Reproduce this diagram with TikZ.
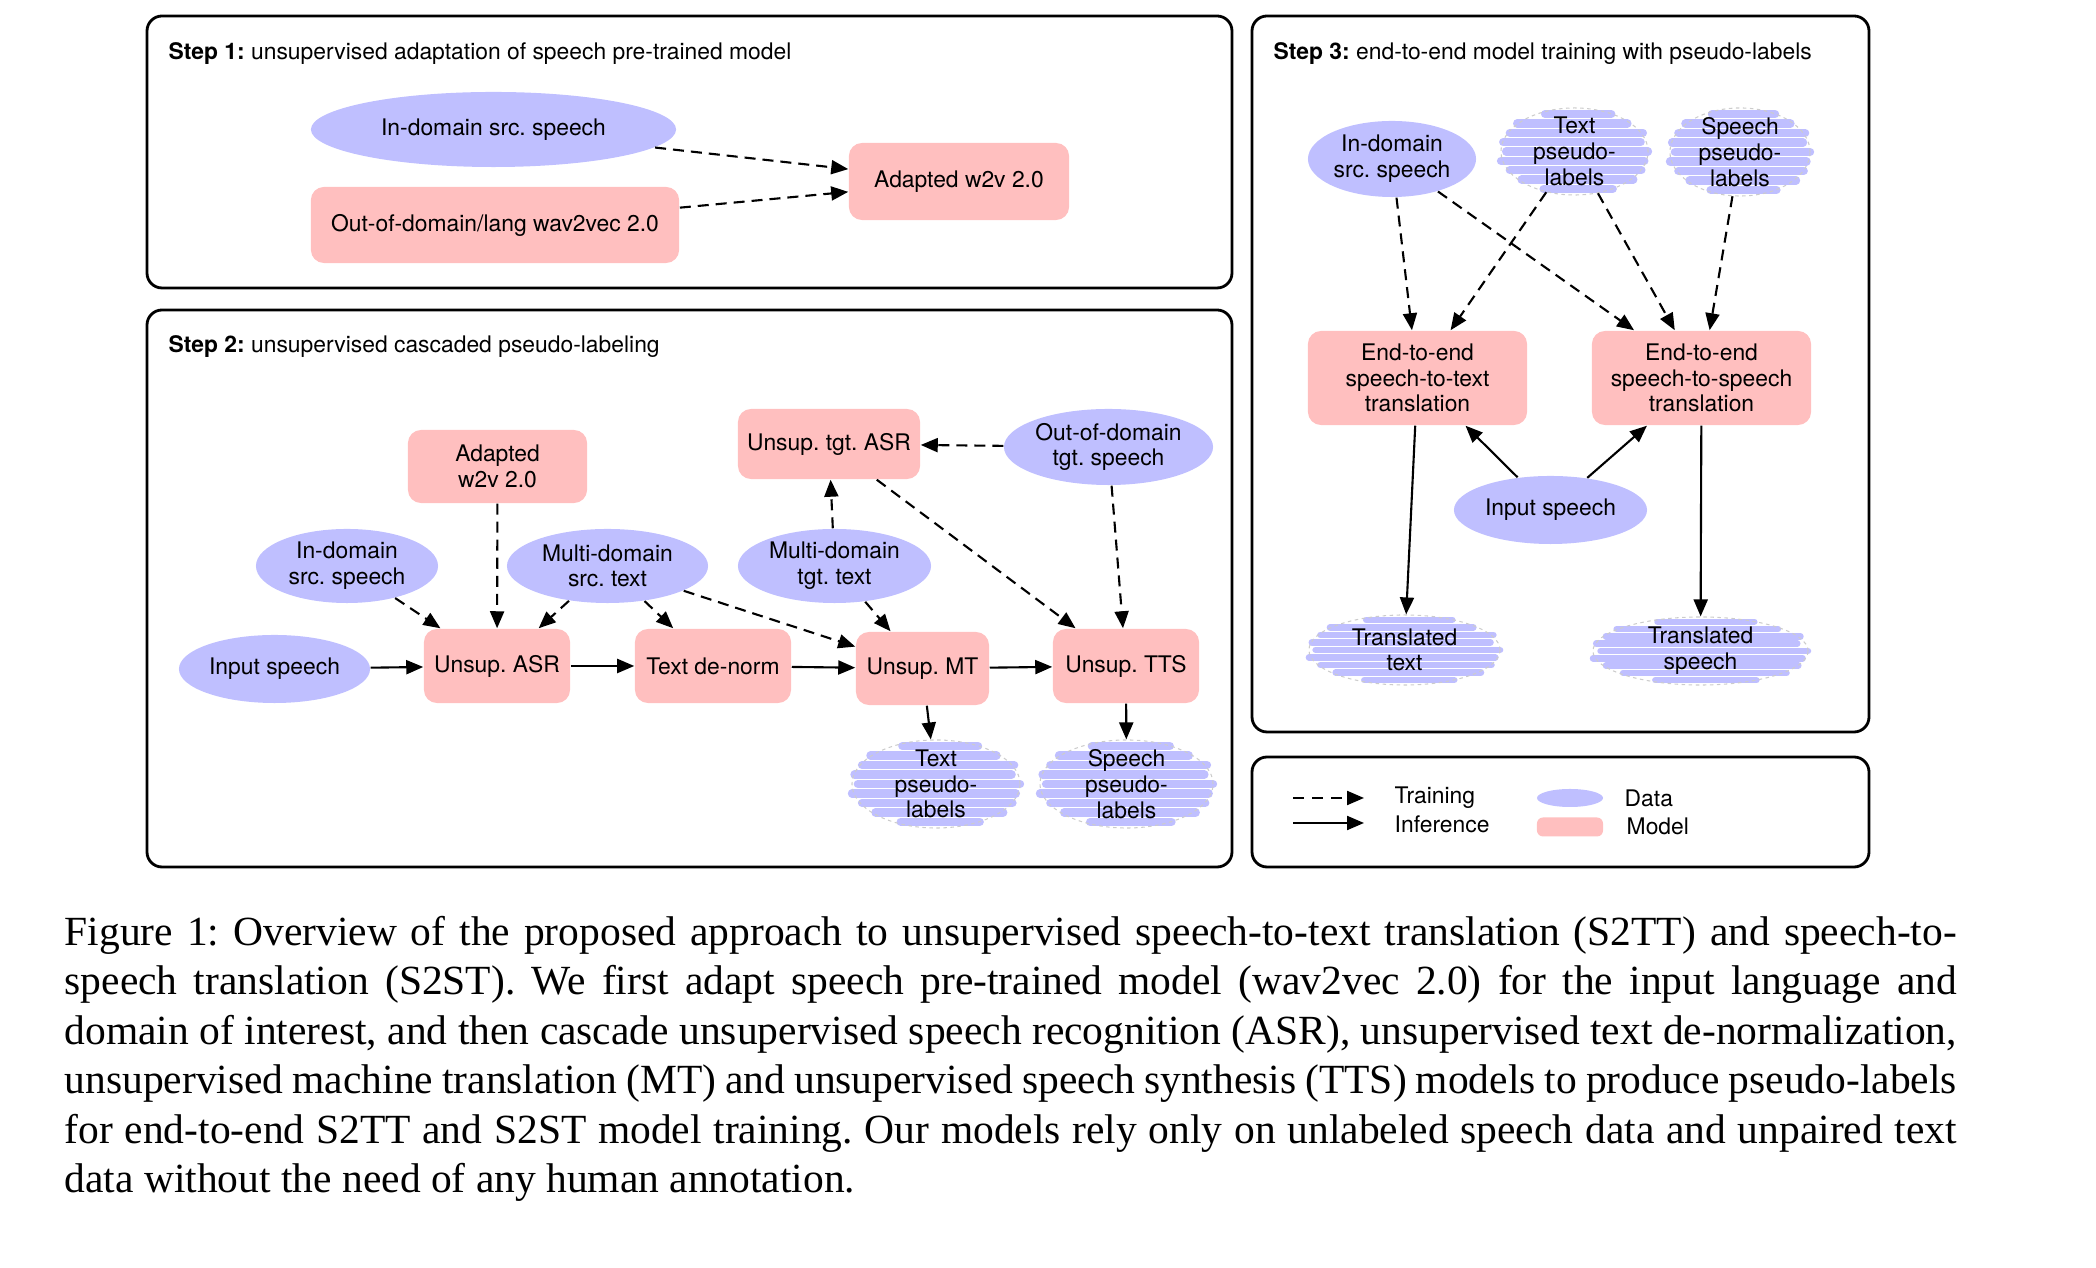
\documentclass[tikz,border=0pt]{standalone}
\usepackage{fontspec}
\setmainfont{TeX Gyre Heros}
\newfontfamily\capfont{Liberation Serif}
\usepackage{tikz}
\usetikzlibrary{positioning,arrows.meta,calc,backgrounds,shapes.geometric}
\definecolor{dataclr}{RGB}{191,191,255}
\definecolor{modelclr}{RGB}{255,191,191}
\frenchspacing

% scribbled fill of a pseudo-label node: #1 node, #2 half width, #3 half height
\newcommand{\scribfill}[3]{%
  \begin{scope}[on background layer]
    \foreach \t/\a/\b in {-0.86/-0.40/0.50,-0.645/-0.78/0.72,-0.43/-0.88/0.93,
        -0.215/-0.97/0.90,0/-0.93/1.0,0.215/-1.0/0.95,0.43/-0.88/0.91,
        0.645/-0.72/0.80,0.86/-0.42/0.52}
      \draw[scrib,line width={#3*0.0019cm}]
        ([shift={(\a*#2,\t*#3)}]#1.center) -- ([shift={(\b*#2,\t*#3)}]#1.center);
  \end{scope}}

\begin{document}
\begin{tikzpicture}[
  x=0.01cm,y=-0.01cm,
  >={Triangle[length=0.17cm,width=0.14cm]},
  every node/.style={font=\fontsize{6.5}{7.3}\selectfont},
  data/.style={ellipse,fill=dataclr,inner sep=-0.1cm,align=center},
  model/.style={rectangle,rounded corners=0.13cm,fill=modelclr,inner sep=0pt,align=center},
  plabel/.style={ellipse,draw=black!20,line width=0.3pt,dash pattern=on 1pt off 1pt,
    inner sep=-0.12cm,align=center},
  scrib/.style={draw=dataclr,line cap=round},
  train/.style={->,line width=0.6pt,dash pattern=on 0.11cm off 0.07cm},
  infer/.style={->,line width=0.6pt},
  panel/.style={draw,line width=0.8pt,rounded corners=0.15cm},
  steptitle/.style={anchor=base west,inner sep=0pt}
]
\useasboundingbox (0,0) rectangle (2096,1268);

% panels
\draw[panel] (147,16) rectangle (1232,288);
\draw[panel] (147,310) rectangle (1232,867);
\draw[panel] (1252,16) rectangle (1869,732);
\draw[panel] (1252,757) rectangle (1869,867);

\node[steptitle] (t1) at (168,60)
  {\textbf{Step 1:} unsupervised adaptation of speech pre-trained model};
\node[steptitle] (t2) at (168,353)
  {\textbf{Step 2:} unsupervised cascaded pseudo-labeling};
\node[steptitle] (t3) at (1273,60)
  {\textbf{Step 3:} end-to-end model training with pseudo-labels};

% Step 1
\node[data,minimum width=3.65cm,minimum height=0.75cm] (s1src) at (493.5,129.5)
  {In-domain src. speech};
\node[model,minimum width=3.68cm,minimum height=0.76cm] (s1ood) at (495,225)
  {Out-of-domain/lang wav2vec 2.0};
\node[model,minimum width=2.2cm,minimum height=0.77cm] (s1ada) at (959,181.5)
  {Adapted w2v 2.0};
\draw[train] (s1src) -- (s1ada);
\draw[train] (s1ood) -- (s1ada);

% Step 2
\node[model,minimum width=1.79cm,minimum height=0.73cm] (s2ada) at (497.5,466.5)
  {Adapted\\w2v 2.0};
\node[data,minimum width=1.82cm,minimum height=0.74cm] (s2src) at (347,566)
  {In-domain\\src. speech};
\node[data,minimum width=2.01cm,minimum height=0.74cm] (s2mst) at (607.5,566)
  {Multi-domain\\src. text};
\node[data,minimum width=1.91cm,minimum height=0.68cm] (s2in) at (274.5,669)
  {Input speech};
\node[model,minimum width=1.46cm,minimum height=0.74cm] (s2asr) at (497,666)
  {Unsup. ASR};
\node[model,minimum width=1.56cm,minimum height=0.74cm] (s2dn) at (713,666)
  {Text de-norm};
\node[model,minimum width=1.33cm,minimum height=0.73cm] (s2mt) at (922.5,668.5)
  {Unsup. MT};
\node[model,minimum width=1.46cm,minimum height=0.74cm] (s2tts) at (1126,666)
  {Unsup. TTS};
\node[model,minimum width=1.82cm,minimum height=0.70cm] (s2tasr) at (829,444)
  {Unsup. tgt. ASR};
\node[data,minimum width=2.09cm,minimum height=0.76cm] (s2ood) at (1108.5,447)
  {Out-of-domain\\tgt. speech};
\node[data,minimum width=1.93cm,minimum height=0.74cm] (s2mtt) at (834.5,566)
  {Multi-domain\\tgt. text};
\node[plabel,minimum width=1.68cm,minimum height=0.88cm] (s2tpl) at (936,784)
  {Text\\pseudo-\\labels};
\scribfill{s2tpl}{84}{44}
\node[plabel,minimum width=1.73cm,minimum height=0.88cm] (s2spl) at (1126.5,784)
  {Speech\\pseudo-\\labels};
\scribfill{s2spl}{86.5}{44}

\draw[train] (s2src) -- (s2asr);
\draw[train] (s2ada) -- (s2asr);
\draw[train] (s2mst) -- (s2asr);
\draw[train] (s2mst) -- (s2dn);
\draw[train] (s2mst) -- (s2mt);
\draw[train] (s2mtt) -- (s2mt);
\draw[train] (s2mtt) -- (s2tasr);
\draw[train] (s2ood) -- (s2tasr);
\draw[train] (s2tasr) -- (s2tts);
\draw[train] (s2ood) -- (s2tts);
\draw[infer] (s2in) -- (s2asr);
\draw[infer] (s2asr) -- (s2dn);
\draw[infer] (s2dn) -- (s2mt);
\draw[infer] (s2mt) -- (s2tts);
\draw[infer] (s2mt) -- (s2tpl);
\draw[infer] (s2tts) -- (s2spl);

% Step 3
\node[data,minimum width=1.68cm,minimum height=0.76cm] (s3src) at (1392,159)
  {In-domain\\src. speech};
\node[plabel,minimum width=1.47cm,minimum height=0.87cm] (s3tpl) at (1574.5,151.5)
  {Text\\pseudo-\\labels};
\scribfill{s3tpl}{73.5}{43.5}
\node[plabel,minimum width=1.40cm,minimum height=0.88cm] (s3spl) at (1740,152)
  {Speech\\pseudo-\\labels};
\scribfill{s3spl}{70}{44}
\node[model,minimum width=2.19cm,minimum height=0.94cm] (s3tt) at (1417.5,378)
  {End-to-end\\speech-to-text\\translation};
\node[model,minimum width=2.19cm,minimum height=0.94cm] (s3st) at (1701.5,378)
  {End-to-end\\speech-to-speech\\translation};
\node[data,minimum width=1.93cm,minimum height=0.68cm] (s3in) at (1550.5,510)
  {Input speech};
\node[plabel,minimum width=1.91cm,minimum height=0.70cm] (s3ttx) at (1404.5,650)
  {Translated\\text};
\scribfill{s3ttx}{95.5}{35}
\node[plabel,minimum width=2.15cm,minimum height=0.68cm] (s3tsp) at (1700.5,651)
  {Translated\\speech};
\scribfill{s3tsp}{107.5}{34}

\draw[train] (s3src) -- (s3tt);
\draw[train] (s3tpl) -- (s3tt);
\draw[train] (s3src) -- (s3st);
\draw[train] (s3tpl) -- (s3st);
\draw[train] (s3spl) -- (s3st);
\draw[infer] (s3in) -- (s3tt);
\draw[infer] (s3in) -- (s3st);
\draw[infer] (s3tt) -- (s3ttx);
\draw[infer] (s3st) -- (s3tsp);

% legend
\coordinate (lgta) at (1293,798);
\coordinate (lgtb) at (1364,798);
\coordinate (lgia) at (1293,823);
\coordinate (lgib) at (1364,823);
\draw[train,dash pattern=on 0.11cm off 0.08cm] (lgta) -- (lgtb);
\draw[infer] (lgia) -- (lgib);
\node[anchor=west,inner sep=0pt] (lgtr) at (1394,798) {Training};
\node[anchor=west,inner sep=0pt] (lgin) at (1394,824) {Inference};
\node[data,inner sep=0pt,minimum width=0.66cm,minimum height=0.18cm] (lgd) at (1570,798) {};
\node[model,rounded corners=0.06cm,minimum width=0.66cm,minimum height=0.19cm] (lgm)
  at (1570,827) {};
\node[anchor=west,inner sep=0pt] (lgdt) at (1624,798) {Data};
\node[anchor=west,inner sep=0pt] (lgmt) at (1626,826) {Model};

% caption (base = last line)
\node[anchor=base west,inner sep=0pt,align=left,
  font=\capfont\fontsize{11.8}{14.1}\selectfont] (cap) at (64,1193)
  {\makebox[18.91cm][s]{Figure 1: Overview of the proposed approach to unsupervised speech-to-text translation (S2TT) and speech-to-}\\
   \makebox[18.91cm][s]{speech translation (S2ST). We first adapt speech pre-trained model (wav2vec 2.0) for the input language and}\\
   \makebox[18.91cm][s]{domain of interest, and then cascade unsupervised speech recognition (ASR), unsupervised text de-normalization,}\\
   \makebox[18.91cm][s]{unsupervised machine translation (MT) and unsupervised speech synthesis (TTS) models to produce pseudo-labels}\\
   \makebox[18.91cm][s]{for end-to-end S2TT and S2ST model training. Our models rely only on unlabeled speech data and unpaired text}\\
   data without the need of any human annotation.};
\end{tikzpicture}
\end{document}
